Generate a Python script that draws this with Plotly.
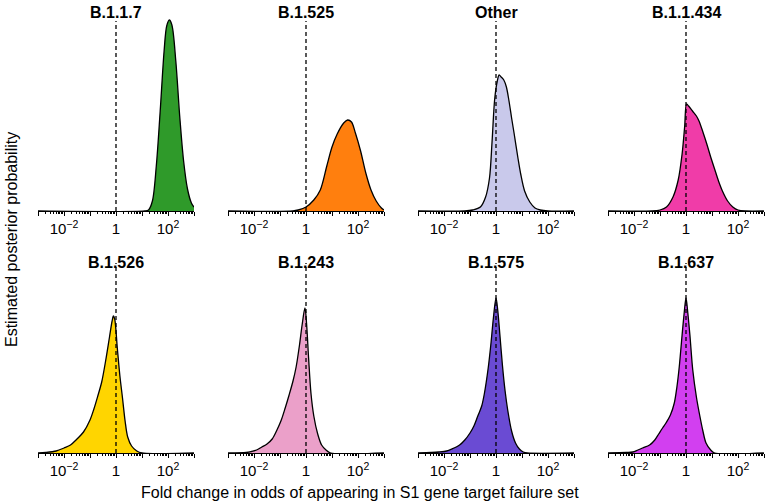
import plotly.graph_objects as go

# ---- data (log10 fold change, estimated posterior density in arbitrary units) ----
variants = ["B.1.1.7", "B.1.525", "Other", "B.1.1.434",
            "B.1.526", "B.1.243", "B.1.575", "B.1.637"]
colors = ["#2f9a2a", "#ff7f0e", "#c9c9eb", "#f03ca8",
          "#ffd500", "#eba0c9", "#6a4bd3", "#d23ff0"]

b117_x = [-3, 1.1, 1.25, 1.4, 1.55, 1.7, 1.85, 1.95, 2.05, 2.15, 2.3, 2.45, 2.6, 2.75, 2.9, 3.0]
b117_y = [0, 0, 1, 10, 45, 100, 160, 185, 191, 186, 150, 95, 50, 22, 8, 4]

b1525_x = [-3, -0.5, -0.3, 0, 0.3, 0.55, 0.8, 1.0, 1.2, 1.45, 1.6, 1.75, 1.9, 2.1, 2.3, 2.5, 2.7, 2.9, 3.0]
b1525_y = [0, 0, 1, 4, 11, 21, 45, 64, 77, 88, 91, 89, 78, 60, 38, 21, 10, 3, 1]

other_x = [-3, -1.2, -0.9, -0.6, -0.4, -0.25, -0.15, -0.05, 0.05, 0.12, 0.2, 0.3, 0.4, 0.5, 0.6, 0.7,
           0.85, 0.95, 1.1, 1.3, 1.5, 1.7, 2.0, 3]
other_y = [0, 0, 1, 4, 14, 33, 70, 112, 130, 136, 134, 131, 124, 110, 93, 77, 52, 37, 20, 9, 3, 1, 0, 0]

b11434_x = [-3, -1.3, -1.0, -0.75, -0.5, -0.3, -0.15, -0.05, 0.02, 0.1, 0.25, 0.4, 0.5, 0.65, 0.8,
            0.95, 1.1, 1.25, 1.4, 1.6, 1.8, 2.0, 2.3, 3]
b11434_y = [0, 0, 1, 4, 14, 31, 57, 85, 107, 105, 100, 95, 90, 79, 67, 54, 42, 30, 20, 10, 4, 1, 0, 0]

b1526_x = [-3, -2.7, -2.3, -2.0, -1.75, -1.5, -1.25, -1.0, -0.85, -0.7, -0.55, -0.4, -0.25, -0.15,
           -0.1, -0.05, 0.05, 0.15, 0.25, 0.35, 0.45, 0.6, 0.8, 1.0, 3]
b1526_y = [0, 0.5, 2, 5, 8, 14, 21, 33, 44, 57, 71, 92, 116, 132, 137, 134, 105, 77, 55, 32, 16, 7, 2, 0, 0]

b1243_x = [-3, -2.3, -2.1, -1.9, -1.7, -1.5, -1.3, -1.1, -0.95, -0.8, -0.65, -0.5, -0.38, -0.25,
           -0.15, -0.04, 0.02, 0.1, 0.19, 0.3, 0.45, 0.6, 0.77, 0.95, 3]
b1243_y = [0, 0.5, 1.5, 3, 6, 9, 14, 24, 33, 45, 58, 72, 86, 108, 128, 145, 130, 95, 60, 37, 19, 8, 3, 0, 0]

b1575_x = [-3, -2.5, -2.2, -1.9, -1.7, -1.4, -1.2, -1.0, -0.85, -0.7, -0.55, -0.45, -0.3, -0.2,
           -0.1, 0.0, 0.07, 0.15, 0.25, 0.35, 0.45, 0.6, 0.75, 0.9, 1.05, 1.2, 3]
b1575_y = [0, 0.5, 1, 2, 4, 8, 13, 20, 27, 37, 47, 59, 85, 108, 135, 155, 142, 118, 87, 62, 43, 22,
           10, 4, 1, 0, 0]

b1637_x = [-3, -2.3, -2.05, -1.85, -1.67, -1.4, -1.2, -1.05, -0.9, -0.77, -0.6, -0.45, -0.35, -0.26,
           -0.15, -0.07, 0.0, 0.07, 0.15, 0.26, 0.4, 0.51, 0.65, 0.77, 0.95, 1.1, 3]
b1637_y = [0, 0.5, 1, 3, 5, 8, 13, 19, 25, 30, 38, 50, 66, 86, 118, 140, 155, 140, 118, 83, 56, 40,
           22, 10, 3, 0, 0]

series_x = [b117_x, b1525_x, other_x, b11434_x, b1526_x, b1243_x, b1575_x, b1637_x]
series_y = [b117_y, b1525_y, other_y, b11434_y, b1526_y, b1243_y, b1575_y, b1637_y]

tick_vals = [1e-3, 1e-2, 1e-1, 1, 10, 100, 1000]
tick_text = ["", "10<sup>\u22122</sup>", "", "1", "", "10<sup>2</sup>", ""]
minor_vals = [m * 10.0 ** e for e in range(-3, 3) for m in range(2, 10)]

# ---- layout geometry ----
W, H = 768, 504
col_left = [38, 228, 418, 608]
panel_w = 156
row_bottom = [211, 453]
panel_h = 196
ymax = 196

fig = go.Figure()
font_family = "Liberation Sans, Arial, Helvetica, sans-serif"
layout = dict(
    width=W, height=H, margin=dict(l=0, r=0, t=0, b=0),
    plot_bgcolor="white", paper_bgcolor="white", showlegend=False,
    font=dict(family=font_family, color="black", size=15),
)
annotations = []
shapes = []

for i, name in enumerate(variants):
    r, c = divmod(i, 4)
    ax = "" if i == 0 else str(i + 1)
    xs = [10.0 ** v for v in series_x[i]]
    fig.add_trace(go.Scatter(
        x=xs, y=series_y[i], mode="lines", fill="tozeroy",
        fillcolor=colors[i], line=dict(color="black", width=1.3, shape="spline", smoothing=0.9),
        xaxis="x" + ax, yaxis="y" + ax, hoverinfo="skip"))
    x0 = col_left[c] / W
    x1 = (col_left[c] + panel_w) / W
    y0 = 1 - row_bottom[r] / H
    y1 = 1 - (row_bottom[r] - panel_h) / H
    layout["xaxis" + ax] = dict(
        domain=[x0, x1], anchor="y" + ax, type="log", range=[-3, 3],
        tickmode="array", tickvals=tick_vals, ticktext=tick_text,
        ticks="outside", ticklen=4, tickwidth=1, tickcolor="black",
        showline=True, linecolor="black", linewidth=1,
        showgrid=False, zeroline=False,
        minor=dict(tickmode="array", tickvals=minor_vals, ticks="outside",
                   ticklen=2, tickwidth=1, tickcolor="black", showgrid=False),
        tickfont=dict(size=15, family=font_family), fixedrange=True)
    layout["yaxis" + ax] = dict(
        domain=[y0, y1], anchor="x" + ax, range=[0, ymax],
        showline=False, showgrid=False, zeroline=False, showticklabels=False,
        ticks="", fixedrange=True)
    shapes.append(dict(type="line", xref="x" + ax, yref="y" + ax + " domain",
                       x0=1, x1=1, y0=0, y1=0.97, layer="above",
                       line=dict(color="black", width=1.3, dash="4px,3px")))
    annotations.append(dict(text="<b>" + name + "</b>", xref="paper", yref="paper",
                            x=(col_left[c] + panel_w / 2) / W,
                            y=1 - (12 if r == 0 else 262) / H,
                            xanchor="center", yanchor="middle", showarrow=False,
                            font=dict(size=16, family=font_family)))

annotations.append(dict(text="Fold change in odds of appearing in S1 gene target failure set",
                        xref="paper", yref="paper", x=360 / W, y=1 - 492 / H,
                        xanchor="center", yanchor="middle", showarrow=False,
                        font=dict(size=16, family=font_family)))
annotations.append(dict(text="Estimated posterior probability",
                        xref="paper", yref="paper", x=11 / W, y=1 - 240 / H,
                        xanchor="center", yanchor="middle", showarrow=False, textangle=-90,
                        font=dict(size=16, family=font_family)))

layout["annotations"] = annotations
layout["shapes"] = shapes
fig.update_layout(**layout)
fig.write_html("out.html", config={"displayModeBar": False},
               post_script="document.body.style.margin='0px';document.body.style.overflow='hidden';")
